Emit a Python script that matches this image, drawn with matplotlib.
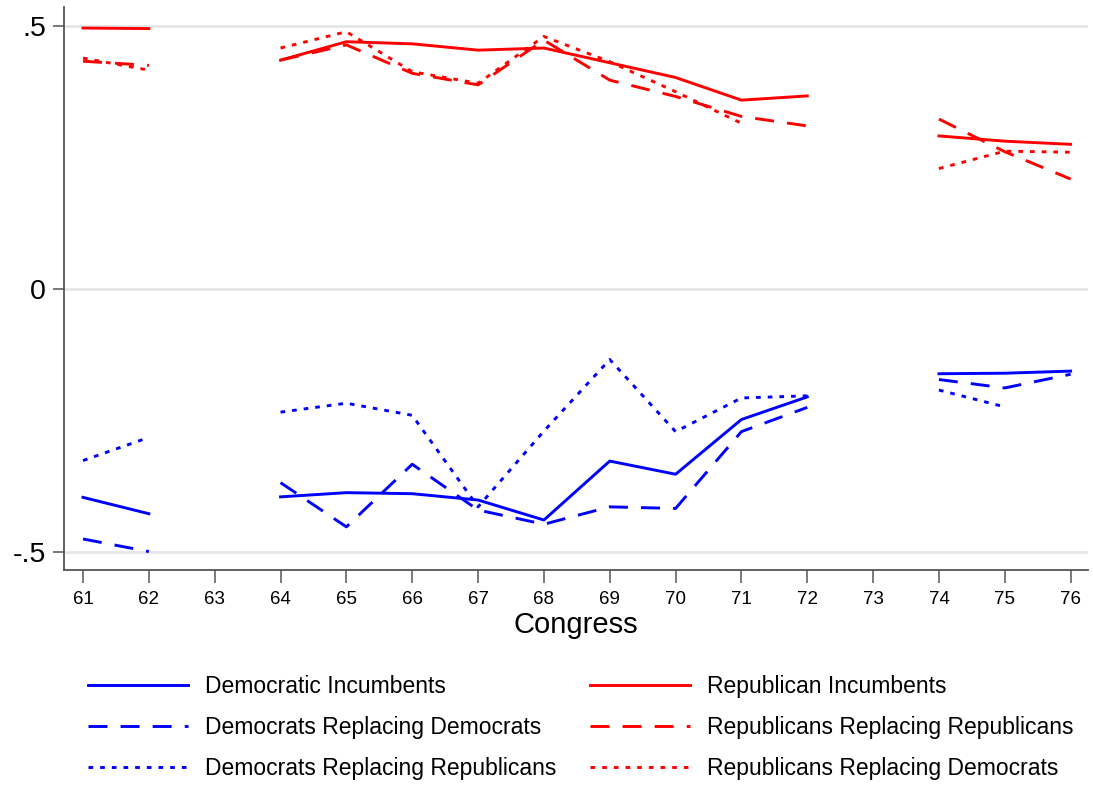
import numpy as np
import matplotlib.pyplot as plt

nan = np.nan

# Congresses 61-76 (no observations for 63 and 73)
congress = [61, 62, 63, 64, 65, 66, 67, 68, 69, 70, 71, 72, 73, 74, 75, 76]

dem_incumbents = [-0.396, -0.427, nan, -0.395, -0.387, -0.389, -0.401, -0.439,
                  -0.327, -0.352, -0.248, -0.205, nan, -0.161, -0.160, -0.156]
dem_repl_dem = [-0.475, -0.499, nan, -0.368, -0.452, -0.333, -0.420, -0.447,
                -0.414, -0.417, -0.271, -0.225, nan, -0.172, -0.188, -0.162]
dem_repl_rep = [-0.326, -0.282, nan, -0.234, -0.217, -0.240, -0.414, -0.270,
                -0.134, -0.271, -0.207, -0.203, nan, -0.192, -0.224, nan]

rep_incumbents = [0.496, 0.495, nan, 0.435, 0.470, 0.466, 0.454, 0.458,
                  0.430, 0.402, 0.359, 0.367, nan, 0.291, 0.281, 0.275]
rep_repl_rep = [0.433, 0.425, nan, 0.435, 0.464, 0.410, 0.388, 0.473,
                0.397, 0.366, 0.328, 0.310, nan, 0.323, 0.261, 0.209]
rep_repl_dem = [0.439, 0.416, nan, 0.458, 0.489, 0.413, 0.391, 0.480,
                0.432, 0.375, 0.315, nan, nan, 0.229, 0.262, 0.260]

tick_congress = [61, 62, 63, 64, 65, 66, 67, 68, 69, 70, 71, 72, 73, 74, 75, 76]
y_ticks = [-0.5, 0, 0.5]
y_tick_labels = ["-.5", "0", ".5"]

plt.rcParams['font.family'] = ['Liberation Sans', 'DejaVu Sans']

W, H = 1093, 785
fig = plt.figure(figsize=(W / 100, H / 100), dpi=100)
ax = fig.add_axes([64 / W, 1 - 570 / H, (1088 - 64) / W, (570 - 7) / H])

lw = 2.1
solid = '-'
dashed = (0, (6.5, 4.5))
dotted = (0, (1.6, 2.4))

series = [
    (dem_incumbents, 'blue', solid, "Democratic Incumbents"),
    (dem_repl_dem, 'blue', dashed, "Democrats Replacing Democrats"),
    (dem_repl_rep, 'blue', dotted, "Democrats Replacing Republicans"),
    (rep_incumbents, 'red', solid, "Republican Incumbents"),
    (rep_repl_rep, 'red', dashed, "Republicans Replacing Republicans"),
    (rep_repl_dem, 'red', dotted, "Republicans Replacing Democrats"),
]

handles = []
for values, color, ls, label in series:
    line, = ax.plot(congress, values, color=color, linestyle=ls, linewidth=lw,
                    label=label, zorder=3)
    handles.append(line)

ax.set_xlim(60.711, 76.264)
ax.set_ylim(-0.534, 0.536)

ax.set_xticks(tick_congress)
ax.set_xticklabels([str(c) for c in tick_congress], fontsize=13.5)
ax.set_yticks(y_ticks)
ax.set_yticklabels(y_tick_labels, fontsize=20.5)

for yv in y_ticks:
    ax.axhline(yv, color='#e6e6e6', linewidth=2, zorder=1)

for side in ['top', 'right']:
    ax.spines[side].set_visible(False)
for side in ['left', 'bottom']:
    ax.spines[side].set_color('#555555')
    ax.spines[side].set_linewidth(1.3)
ax.tick_params(axis='x', length=9, width=1.1, color='#555555', pad=6)
ax.tick_params(axis='y', length=8, width=1.1, color='#555555', pad=5)

ax.set_xlabel("Congress", fontsize=21, labelpad=2)

# two legend columns, Democrats left and Republicans right
fs = 16.5
fs_px = fs * 100 / 72
common = dict(frameon=False, fontsize=fs, handlelength=100 / fs_px,
              handletextpad=17 / fs_px, labelspacing=0.79, borderpad=0,
              borderaxespad=0, loc='upper left')
fig.legend(handles=handles[:3], bbox_to_anchor=(88 / W, 1 - 675 / H), **common)
fig.legend(handles=handles[3:], bbox_to_anchor=(590 / W, 1 - 675 / H), **common)

fig.savefig("out.png", dpi=100)
